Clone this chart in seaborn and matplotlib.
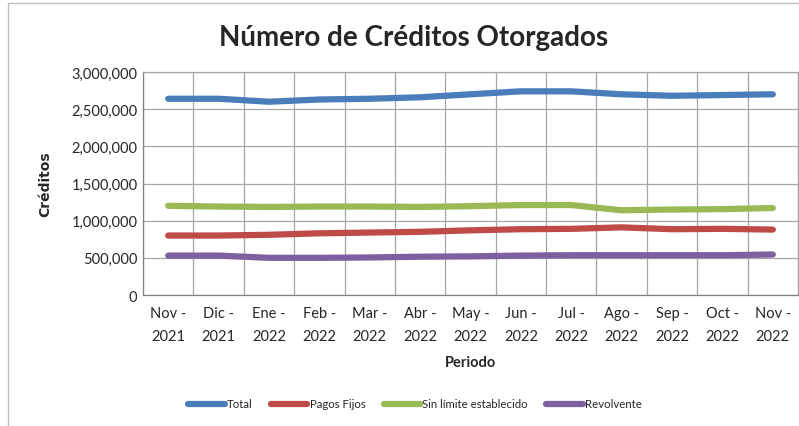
import pandas as pd
import numpy as np
import seaborn as sns
import matplotlib.pyplot as plt
from matplotlib.ticker import FuncFormatter, FixedLocator
from matplotlib.patches import Rectangle

# Periodos (eje x)
periodos = ['Nov -\n2021', 'Dic -\n2021', 'Ene -\n2022', 'Feb -\n2022', 'Mar -\n2022',
            'Abr -\n2022', 'May -\n2022', 'Jun -\n2022', 'Jul -\n2022', 'Ago -\n2022',
            'Sep -\n2022', 'Oct -\n2022', 'Nov -\n2022']

# Series
total = [2640000, 2640000, 2600000, 2630000, 2640000, 2660000, 2700000,
         2740000, 2740000, 2700000, 2680000, 2690000, 2700000]
pagos_fijos = [800000, 800000, 810000, 830000, 840000, 850000, 870000,
               885000, 890000, 910000, 885000, 890000, 880000]
sin_limite = [1200000, 1190000, 1185000, 1190000, 1190000, 1185000, 1195000,
              1210000, 1210000, 1140000, 1150000, 1155000, 1170000]
revolvente = [530000, 530000, 500000, 500000, 505000, 515000, 520000,
              530000, 535000, 535000, 535000, 535000, 545000]

series = ['Total', 'Pagos Fijos', 'Sin límite establecido', 'Revolvente']
colores = ['#4a7ebb', '#be4b48', '#98b954', '#7d60a0']

df = pd.DataFrame({
    'pos': list(range(len(periodos))) * 4,
    'valor': total + pagos_fijos + sin_limite + revolvente,
    'serie': sum([[s] * len(periodos) for s in series], []),
})

sns.set_style('white')
plt.rcParams['font.family'] = ['Lato', 'DejaVu Sans']

fig = plt.figure(figsize=(7.99, 4.27), dpi=100)
# Marco del grafico
fig.patches.append(Rectangle((8 / 799, -0.1), 1.0, (427 - 4) / 427 + 0.1,
                             transform=fig.transFigure, fill=False,
                             edgecolor='#bfbfbf', linewidth=1))

ax = fig.add_axes([143 / 799, 1 - 296 / 427, 655 / 799, 223 / 427])
sns.lineplot(data=df, x='pos', y='valor', hue='serie', hue_order=series,
             palette=colores, linewidth=4.5, ax=ax, legend=True,
             solid_capstyle='round', solid_joinstyle='round')

ax.set_xlim(-0.5, len(periodos) - 0.5)
ax.set_ylim(0, 3000000)
ax.set_yticks(np.arange(0, 3000001, 500000))
ax.yaxis.set_major_formatter(FuncFormatter(lambda v, p: f'{int(v):,}'))
ax.set_xticks(range(len(periodos)))
ax.set_xticklabels(periodos, fontsize=10.5, linespacing=1.85)
ax.xaxis.set_minor_locator(FixedLocator(np.arange(-0.5, len(periodos), 1)))
ax.tick_params(axis='y', labelsize=10.5, length=0, pad=4)
ax.tick_params(axis='x', which='both', length=0, pad=8)

ax.grid(True, axis='y', which='major', color='#a6a6a6', linewidth=0.9)
ax.grid(True, axis='x', which='minor', color='#a6a6a6', linewidth=0.9)
ax.grid(False, axis='x', which='major')
ax.set_axisbelow(True)
for s in ax.spines.values():
    s.set_color('#a6a6a6')
    s.set_linewidth(0.9)
ax.spines['left'].set_color('#808080')
ax.spines['bottom'].set_color('#808080')

ax.set_xlabel('Periodo', fontsize=10.5, fontweight='bold', labelpad=8)
ax.set_ylabel('Créditos', fontsize=10, fontweight='bold', labelpad=14,
              family=['DejaVu Sans'])
fig.text(0.517, 1 - 38 / 427, 'Número de Créditos Otorgados', ha='center',
         va='center', fontsize=20, fontweight='bold')

ax.legend(loc='center', bbox_to_anchor=(415 / 799, 1 - 405 / 427),
          bbox_transform=fig.transFigure, ncol=4, frameon=False,
          fontsize=8.2, handlelength=3.2, handletextpad=0.2, columnspacing=1.6)

plt.savefig('out.png', dpi=100)
